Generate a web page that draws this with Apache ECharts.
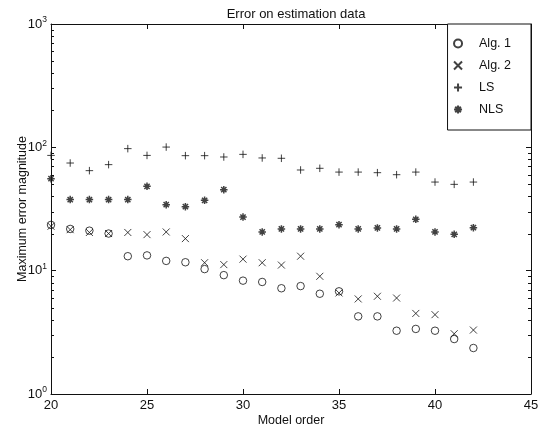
<!DOCTYPE html>
<html>
<head>
<meta charset="utf-8">
<script src="https://cdn.jsdelivr.net/npm/echarts@6/dist/echarts.min.js"></script>
<style>
  html, body { margin: 0; padding: 0; background: #ffffff; }
  #chart { width: 542px; height: 434px; }
</style>
</head>
<body>
<div id="chart"></div>
<script>
// ---- data ----
const modelOrder = [20,21,22,23,24,25,26,27,28,29,30,31,32,33,34,35,36,37,38,39,40,41,42];
const alg1 = [23.5,21.8,21.1,20.0,13.1,13.3,12.0,11.7,10.3,9.2,8.3,8.1,7.2,7.5,6.5,6.8,4.26,4.26,3.26,3.37,3.26,2.79,2.36];
const alg2 = [22.9,21.5,20.4,20.0,20.4,19.6,20.6,18.2,11.6,11.2,12.4,11.6,11.1,13.1,9.0,6.6,5.9,6.2,6.0,4.5,4.4,3.08,3.3];
const ls   = [86,74.6,64.7,72.4,97.6,86,100.5,85.6,85.6,83.5,87.7,82,81.5,65.5,67.6,63,63,62.3,60,63,52.3,50.1,52.3];
const nls  = [55.7,37.7,37.7,37.7,37.7,48.3,34.3,33,37.2,45.4,27.2,20.6,21.8,21.8,21.8,23.6,21.8,22.2,21.8,26.1,20.6,19.7,22.3];
const seriesNames = ['Alg. 1', 'Alg. 2', 'LS', 'NLS'];
const yExponents = { 1: '0', 10: '1', 100: '2', 1000: '3' };
const minorTickValues = [2,3,4,5,6,7,8,9,20,30,40,50,60,70,80,90,200,300,400,500,600,700,800,900];

const pair = (ys) => modelOrder.map((x, i) => [x, ys[i]]);
const INK = '#111111';
const FONT = 'Liberation Sans';

const symX = 'path://M0,0L10,10M10,0L0,10';
const symPlus = 'path://M5,0L5,10M0,5L10,5';
const symStar = 'path://M5,0L5,10M0,5L10,5M1.5,1.5L8.5,8.5M8.5,1.5L1.5,8.5';

const chart = echarts.init(document.getElementById('chart'), null, { renderer: 'canvas' });

const axisCommon = {
  axisLine: { show: true, lineStyle: { color: INK, width: 1 } },
  splitLine: { show: false },
};

chart.setOption({
  backgroundColor: '#ffffff',
  animation: false,
  title: {
    text: 'Error on estimation data',
    left: 291, top: 3, textAlign: 'center',
    textStyle: { fontFamily: FONT, fontSize: 13, fontWeight: 'normal', color: INK }
  },
  grid: { left: 51, right: 11, top: 24, bottom: 40, containLabel: false, outerBoundsMode: 'none' },
  legend: {
    data: seriesNames,
    orient: 'vertical',
    right: 11, top: 24,
    backgroundColor: '#ffffff',
    borderColor: INK, borderWidth: 1,
    padding: [13, 20, 14, 4],
    itemGap: 9,
    itemWidth: 8, itemHeight: 8,
    textStyle: { fontFamily: FONT, fontSize: 12.5, color: INK, lineHeight: 12, padding: [0, 0, 0, 12] }
  },
  xAxis: [
    Object.assign({}, axisCommon, {
      type: 'value', min: 20, max: 45, interval: 5,
      name: 'Model order', nameLocation: 'middle', nameGap: 20, nameMoveOverlap: false,
      nameTextStyle: { fontFamily: FONT, fontSize: 12.5, color: INK },
      axisTick: { show: true, inside: true, length: 5, lineStyle: { color: INK } },
      axisLabel: { fontFamily: FONT, fontSize: 13, color: INK, margin: 5 }
    }),
    Object.assign({}, axisCommon, {
      type: 'value', min: 20, max: 45, interval: 5, position: 'top',
      axisTick: { show: true, inside: true, length: 5, lineStyle: { color: INK } },
      axisLabel: { show: false }
    })
  ],
  yAxis: [
    Object.assign({}, axisCommon, {
      type: 'log', logBase: 10, min: 1, max: 1000,
      name: 'Maximum error magnitude', nameLocation: 'middle', nameGap: 22, nameMoveOverlap: false,
      nameTextStyle: { fontFamily: FONT, fontSize: 12.5, color: INK },
      axisTick: { show: true, inside: true, length: 5, lineStyle: { color: INK } },
      axisLabel: {
        margin: 4,
        formatter: (v) => '{b|10}{s|' + (yExponents[Math.round(v)] || '') + '}',
        rich: {
          b: { fontFamily: FONT, fontSize: 13, color: INK },
          s: { fontFamily: FONT, fontSize: 8.5, color: INK, padding: [0, 0, 8, 0] }
        }
      }
    }),
    Object.assign({}, axisCommon, {
      type: 'log', logBase: 10, min: 1, max: 1000, position: 'right',
      axisTick: { show: true, inside: true, length: 5, lineStyle: { color: INK } },
      axisLabel: { show: false }
    })
  ],
  series: [
    { name: 'Alg. 1', type: 'scatter', data: pair(alg1), symbol: 'circle', symbolSize: 7.5,
      itemStyle: { color: 'none', borderColor: INK, borderWidth: 1 } },
    { name: 'Alg. 2', type: 'scatter', data: pair(alg2), symbol: symX, symbolSize: 7,
      itemStyle: { color: 'none', borderColor: INK, borderWidth: 1 } },
    { name: 'LS', type: 'scatter', data: pair(ls), symbol: symPlus, symbolSize: 7.5,
      itemStyle: { color: 'none', borderColor: INK, borderWidth: 1 } },
    { name: 'NLS', type: 'scatter', data: pair(nls), symbol: symStar, symbolSize: 7.5,
      itemStyle: { color: 'none', borderColor: INK, borderWidth: 1.5 } },
    {
      name: 'minor ticks', type: 'custom', silent: true, clip: false,
      data: minorTickValues.map(v => [20, v]),
      renderItem: (params, api) => {
        const y = Math.round(api.coord([20, api.value(1)])[1]) + 0.5;
        const x0 = params.coordSys.x;
        const x1 = x0 + params.coordSys.width;
        return {
          type: 'group',
          children: [
            { type: 'line', shape: { x1: x0, y1: y, x2: x0 + 3, y2: y }, style: { stroke: INK, lineWidth: 1 } },
            { type: 'line', shape: { x1: x1 - 3, y1: y, x2: x1, y2: y }, style: { stroke: INK, lineWidth: 1 } }
          ]
        };
      }
    }
  ]
});
</script>
</body>
</html>
